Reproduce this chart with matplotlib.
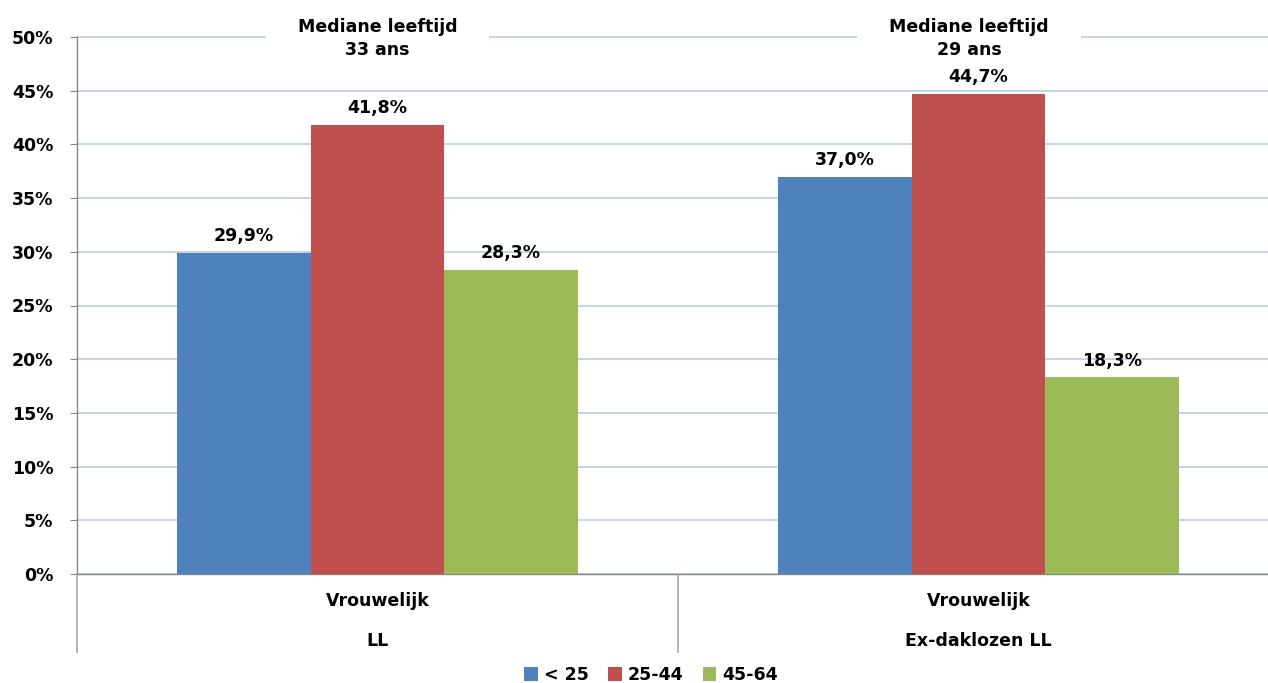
import matplotlib
matplotlib.use("Agg")
import matplotlib.pyplot as plt
from matplotlib.patches import Rectangle

# Data
groups = ["LL", "Ex-daklozen LL"]
sublabel = "Vrouwelijk"
age_classes = ["< 25", "25-44", "45-64"]
under_25 = [29.9, 37.0]
age_25_44 = [41.8, 44.7]
age_45_64 = [28.3, 18.3]
median_ages = [33, 29]
yticks = [0, 5, 10, 15, 20, 25, 30, 35, 40, 45, 50]

series = [under_25, age_25_44, age_45_64]
colors = ["#4F81BD", "#C0504D", "#9BBB59"]

plt.rcParams["font.family"] = ["DejaVu Sans"]
plt.rcParams["font.weight"] = "bold"
FS = 12.5

W, H = 1268, 683
fig = plt.figure(figsize=(W / 100, H / 100), dpi=100)
ax = fig.add_axes([77 / W, (H - 574) / H, (1279 - 77) / W, 537 / H])

bw = 0.222
x = list(range(len(groups)))
for i, (vals, col) in enumerate(zip(series, colors)):
    pos = [xi + (i - 1) * bw for xi in x]
    ax.bar(pos, vals, width=bw, color=col, label=age_classes[i], zorder=3,
           edgecolor="none")
    for p, v in zip(pos, vals):
        ax.annotate(f"{v:.1f}%".replace(".", ","), (p, v), xytext=(0, 5.5),
                    textcoords="offset points", ha="center", va="bottom",
                    fontsize=FS, fontweight="bold", color="black", zorder=5)

ax.set_xlim(-0.5, 1.5)
ax.set_ylim(0, 50)
ax.set_yticks(yticks)
ax.set_yticklabels([f"{t}%" for t in yticks], fontsize=FS, fontweight="bold")
ax.tick_params(axis="y", length=5, color="#868686", pad=12)
ax.set_xticks([])
ax.grid(axis="y", color="#B3C7E3", linewidth=1.1, zorder=0)
ax.set_axisbelow(True)
for gl in ax.get_ygridlines():
    gl.set_clip_on(False)

for s in ["top", "right"]:
    ax.spines[s].set_visible(False)
for s in ["left", "bottom"]:
    ax.spines[s].set_color("#868686")
    ax.spines[s].set_linewidth(1.0)

# Two-level category labels and separators below the axis
tr = ax.get_xaxis_transform()
for xi, g in zip(x, groups):
    ax.text(xi, -0.05, sublabel, transform=tr, ha="center", va="center",
            fontsize=FS, fontweight="bold")
    ax.text(xi, -0.125, g, transform=tr, ha="center", va="center",
            fontsize=FS, fontweight="bold")
for sx in [-0.5, 0.5]:
    ax.plot([sx, sx], [0, -0.145], transform=tr, color="#A6A6A6", lw=1.2,
            clip_on=False, zorder=4)

# Median age boxes at the top of each group
box_centers = [0.0, 0.984]
for cx, m in zip(box_centers, median_ages):
    ax.add_patch(Rectangle((cx - 0.186, 46.6), 0.372, 5.5, facecolor="white",
                           edgecolor="none", clip_on=False, zorder=2))
    ax.text(cx, 49.85, f"Mediane leeftijd\n{m} ans", ha="center", va="center",
            fontsize=FS, fontweight="bold", linespacing=1.35, zorder=6,
            clip_on=False)

fig.legend(loc="center", bbox_to_anchor=(651 / W, 8 / H), ncol=3, frameon=False,
           handlelength=0.8, handleheight=0.8, handletextpad=0.35,
           columnspacing=1.1, borderpad=0,
           prop={"weight": "bold", "size": FS})

fig.savefig("out.png", dpi=100)
